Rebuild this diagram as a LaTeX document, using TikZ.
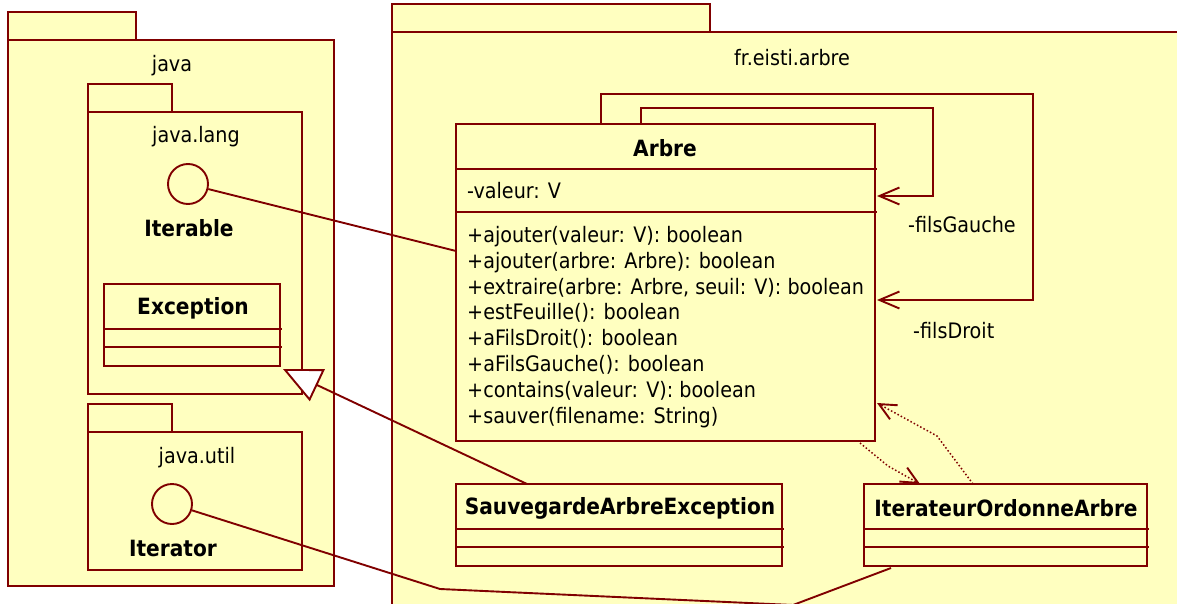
\documentclass[tikz,border=0pt]{standalone}
\usepackage{fontspec}
\setmainfont{DejaVu Sans Condensed}
\usetikzlibrary{arrows.meta}
\definecolor{dred}{RGB}{128,0,0}
\definecolor{ylw}{RGB}{255,255,192}
\tikzset{
  ln/.style={draw=dred, line width=1.9pt},
  box/.style={ln, fill=ylw, anchor=north west, inner sep=0pt, outer sep=0pt},
  iface/.style={ln, fill=ylw, circle, inner sep=0pt, minimum size=40pt},
  lbl/.style={font=\fontsize{21.3}{24}\selectfont, text=black, inner sep=0pt},
  blbl/.style={font=\fontsize{22.4}{25}\selectfont\bfseries, text=black, inner sep=0pt},
  opl/.style={lbl, anchor=base west},
  sep/.style={draw=dred, line width=1.9pt},
  assoc/.style={draw=dred, line width=1.9pt, -{Straight Barb[length=20pt,width=17pt,line width=1.9pt]}},
  dep/.style={draw=dred, line width=1.5pt, dash pattern=on 1.5pt off 2.2pt, -{Straight Barb[length=17pt,width=16pt,line width=1.9pt]}},
  gen/.style={draw=dred, line width=1.9pt, -{Triangle[open, length=38pt, width=35pt, line width=1.9pt, fill=white]}},
}
\begin{document}
\begin{tikzpicture}[x=1pt, y=-1pt]
\useasboundingbox (0,0) rectangle (1177,604);
\clip (0,0) rectangle (1177,604);
\fill[white] (0,0) rectangle (1177,604);

% package java
\node[box, minimum width=128pt, minimum height=28pt] (javatab) at (8,12) {};
\node[box, minimum width=326pt, minimum height=546pt] (java) at (8,40) {};
\node[lbl] (javalbl) at (172,66) {java};

% package java.lang
\node[box, minimum width=84pt, minimum height=28pt] (langtab) at (88,84) {};
\node[box, minimum width=214pt, minimum height=282pt] (lang) at (88,112) {};
\node[lbl] (langlbl) at (196,137) {java.lang};
\node[iface] (iterable) at (188,184) {};
\node[blbl] (iterablelbl) at (189,228) {Iterable};

% class Exception
\node[box, minimum width=176pt, minimum height=82pt] (exc) at (104,284) {};
\node[blbl] (exclbl) at (193,308) {Exception};
\draw[sep] (104,329) -- (282,329);
\draw[sep] (104,347) -- (282,347);

% package java.util
\node[box, minimum width=84pt, minimum height=28pt] (utiltab) at (88,404) {};
\node[box, minimum width=214pt, minimum height=138pt] (util) at (88,432) {};
\node[lbl] (utillbl) at (197,458) {java.util};
\node[iface] (iterator) at (172,504) {};
\node[blbl] (iteratorlbl) at (173,548) {Iterator};

% package fr.eisti.arbre
\node[box, minimum width=318pt, minimum height=28pt] (frtab) at (392,4) {};
\node[box, minimum width=800pt, minimum height=600pt] (fr) at (392,32) {};
\node[lbl] (frlbl) at (792,58) {fr.eisti.arbre};

% class Arbre
\node[box, minimum width=419pt, minimum height=317pt] (arbre) at (456,124) {};
\node[blbl] (arbrelbl) at (665,148) {Arbre};
\draw[sep] (456,169) -- (877,169);
\draw[sep] (456,212) -- (877,212);
\node[opl] (attr) at (467,199) {-valeur: V};
\node[opl] (op1) at (467,242) {+ajouter(valeur: V): boolean};
\node[opl] (op2) at (467,268) {+ajouter(arbre: Arbre): boolean};
\node[opl] (op3) at (467,294) {+extraire(arbre: Arbre, seuil: V): boolean};
\node[opl] (op4) at (467,319) {+estFeuille(): boolean};
\node[opl] (op5) at (467,345) {+aFilsDroit(): boolean};
\node[opl] (op6) at (467,371) {+aFilsGauche(): boolean};
\node[opl] (op7) at (467,397) {+contains(valeur: V): boolean};
\node[opl] (op8) at (467,423) {+sauver(filename: String)};

% class SauvegardeArbreException
\node[box, minimum width=326pt, minimum height=82pt] (sauv) at (456,484) {};
\node[blbl] (sauvlbl) at (620,508) {SauvegardeArbreException};
\draw[sep] (456,529) -- (784,529);
\draw[sep] (456,547) -- (784,547);

% class IterateurOrdonneArbre
\node[box, minimum width=283pt, minimum height=82pt] (iter) at (864,484) {};
\node[blbl] (iterlbl) at (1006,508) {IterateurOrdonneArbre};
\draw[sep] (864,529) -- (1149,529);
\draw[sep] (864,547) -- (1149,547);

% connector end points
\coordinate (arbreL) at (456,251);
\coordinate (fgS) at (641,124);
\coordinate (fgE) at (877,196);
\coordinate (fdS) at (601,124);
\coordinate (fdE) at (877,300);
\coordinate (sauvT) at (527,484);
\coordinate (excC) at (283,369);
\coordinate (arbreB) at (860,443);
\coordinate (iterT1) at (920,484);
\coordinate (iterT2) at (973,484);
\coordinate (arbreR) at (877,403);
\coordinate (iterB) at (891,568);

% connectors
\draw[ln] (iterable) -- (arbreL);
\draw[assoc] (fgS) -- (641,108) -- (933,108) -- (933,196) -- (fgE);
\draw[assoc] (fdS) -- (601,94) -- (1033,94) -- (1033,300) -- (fdE);
\node[lbl, anchor=west] (fglbl) at (908,225) {-filsGauche};
\node[lbl, anchor=west] (fdlbl) at (913,331) {-filsDroit};
\draw[gen] (sauvT) -- (excC);
\draw[dep] (arbreB) -- (888,466) -- (iterT1);
\draw[dep] (iterT2) -- (937,436) -- (arbreR);
\draw[ln] (iterator) -- (440,589) -- (793,605) -- (iterB);
\end{tikzpicture}
\end{document}
